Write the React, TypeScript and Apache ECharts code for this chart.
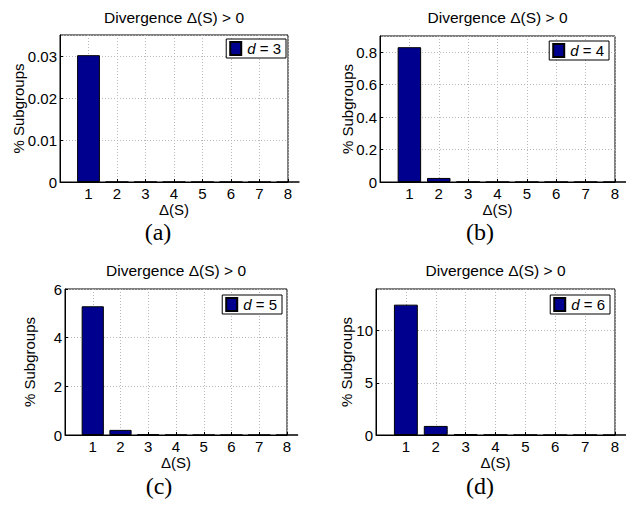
import React, { useEffect, useRef } from "react";
import * as echarts from "echarts";

const categories = [1, 2, 3, 4, 5, 6, 7, 8];
const valuesD3 = [0.0302, 0, 0, 0, 0, 0, 0, 0];
const valuesD4 = [0.831, 0.025, 0.001, 0, 0, 0, 0, 0];
const valuesD5 = [5.29, 0.21, 0.02, 0.003, 0, 0, 0, 0];
const valuesD6 = [12.5, 0.87, 0.08, 0.02, 0.005, 0, 0, 0];
const seriesValues = [valuesD3, valuesD4, valuesD5, valuesD6];
const dValues = [3, 4, 5, 6];
const yMaxes = [0.035, 0.9, 6, 14];
const yIntervals = [0.01, 0.2, 2, 5];
const captions = ["(a)", "(b)", "(c)", "(d)"];
const titleText = "Divergence \u0394(S) > 0";
const xName = "\u0394(S)";
const yName = "% Subgroups";

const FONT = '"Liberation Sans", Arial, Helvetica, sans-serif';
const SERIF = '"Liberation Serif", "Times New Roman", serif';

const panels = [
  { left: 60, top: 35, width: 228, height: 147, yNameX: 18, titleY: 17, legendRight: 340, legendTop: 39, capX: 158, capY: 232 },
  { left: 380, top: 36, width: 235, height: 146, yNameX: 347, titleY: 17, legendRight: 17, legendTop: 41, capX: 480, capY: 232 },
  { left: 65, top: 289, width: 222, height: 146, yNameX: 29, titleY: 270, legendRight: 344, legendTop: 295, capX: 159, capY: 486 },
  { left: 376, top: 289, width: 239, height: 146, yNameX: 346, titleY: 270, legendRight: 16, legendTop: 295, capX: 480, capY: 486 },
];

export default function App() {
  const ref = useRef<HTMLDivElement>(null);
  useEffect(() => {
    if (!ref.current) return;
    const chart = echarts.init(ref.current, null, { renderer: "svg" });
    const grids: any[] = [];
    const xAxes: any[] = [];
    const yAxes: any[] = [];
    const series: any[] = [];
    const legends: any[] = [];
    const graphics: any[] = [];
    panels.forEach((p, i) => {
      grids.push({
        left: p.left,
        top: p.top,
        width: p.width,
        height: p.height,
        show: true,
        borderColor: "#000",
        borderWidth: 1,
        backgroundColor: "#fff",
        containLabel: false,
      });
      xAxes.push({
        type: "value",
        gridIndex: i,
        min: 0,
        max: 8,
        interval: 1,
        axisLine: { show: true, onZero: false, lineStyle: { color: "#000", width: 1 } },
        axisTick: { show: true, inside: true, length: 3, lineStyle: { color: "#000" } },
        axisLabel: { showMinLabel: false, color: "#000", fontFamily: FONT, fontSize: 15, margin: 4 },
        splitLine: { show: true, lineStyle: { color: "#b8b8b8", type: [1, 2], width: 1 } },
      });
      yAxes.push({
        type: "value",
        gridIndex: i,
        min: 0,
        max: yMaxes[i],
        interval: yIntervals[i],
        axisLine: { show: true, lineStyle: { color: "#000", width: 1 } },
        axisTick: { show: true, inside: true, length: 3, lineStyle: { color: "#000" } },
        axisLabel: {
          showMaxLabel: i === 2,
          color: "#000",
          fontFamily: FONT,
          fontSize: 15,
          margin: 3,
          formatter: (v: number) => String(Math.round(v * 1000) / 1000),
        },
        splitLine: { show: true, lineStyle: { color: "#b8b8b8", type: [1, 2], width: 1 } },
      });
      const name = "d = " + dValues[i];
      series.push({
        type: "bar",
        name,
        xAxisIndex: i,
        yAxisIndex: i,
        data: categories.map((c, k) => [c, seriesValues[i][k]]),
        barWidth: "80%",
        itemStyle: { color: "#00008F", borderColor: "#000", borderWidth: 1 },
        emphasis: { disabled: true },
      });
      legends.push({
        data: [name],
        right: p.legendRight,
        top: p.legendTop,
        orient: "vertical",
        backgroundColor: "#fff",
        borderColor: "#000",
        borderWidth: 1,
        padding: [2, 5, 2, 3],
        itemWidth: 11,
        itemHeight: 13,
        itemGap: 0,
        icon: "rect",
        selectedMode: false,
        formatter: () => "{i|d} = " + dValues[i],
        textStyle: {
          color: "#000",
          fontFamily: FONT,
          fontSize: 15,
          lineHeight: 13,
          padding: [0, 0, 0, 1],
          rich: {
            i: { fontStyle: "italic", fontFamily: FONT, fontSize: 15, color: "#000", lineHeight: 13 },
          },
        },
      });
      const cx = p.left + p.width / 2;
      graphics.push({
        type: "text",
        x: cx,
        y: p.titleY,
        style: { text: titleText, fill: "#000", font: `15.5px ${FONT}`, textAlign: "center", textVerticalAlign: "middle" },
      });
      graphics.push({
        type: "text",
        x: cx,
        y: p.top + p.height + 27,
        style: { text: xName, fill: "#000", font: `15px ${FONT}`, textAlign: "center", textVerticalAlign: "middle" },
      });
      graphics.push({
        type: "text",
        x: p.yNameX,
        y: p.top + p.height / 2,
        rotation: Math.PI / 2,
        style: { text: yName, fill: "#000", font: `15px ${FONT}`, textAlign: "center", textVerticalAlign: "middle" },
      });
      graphics.push({
        type: "text",
        x: p.capX,
        y: p.capY,
        style: { text: captions[i], fill: "#000", font: `24px ${SERIF}`, textAlign: "center", textVerticalAlign: "middle" },
      });
    });
    chart.setOption({
      animation: false,
      backgroundColor: "#fff",
      grid: grids,
      xAxis: xAxes,
      yAxis: yAxes,
      series,
      legend: legends,
      graphic: graphics,
    });
    return () => chart.dispose();
  }, []);
  return <div ref={ref} style={{ position: "fixed", left: 0, top: 0, width: 626, height: 506 }} />;
}
